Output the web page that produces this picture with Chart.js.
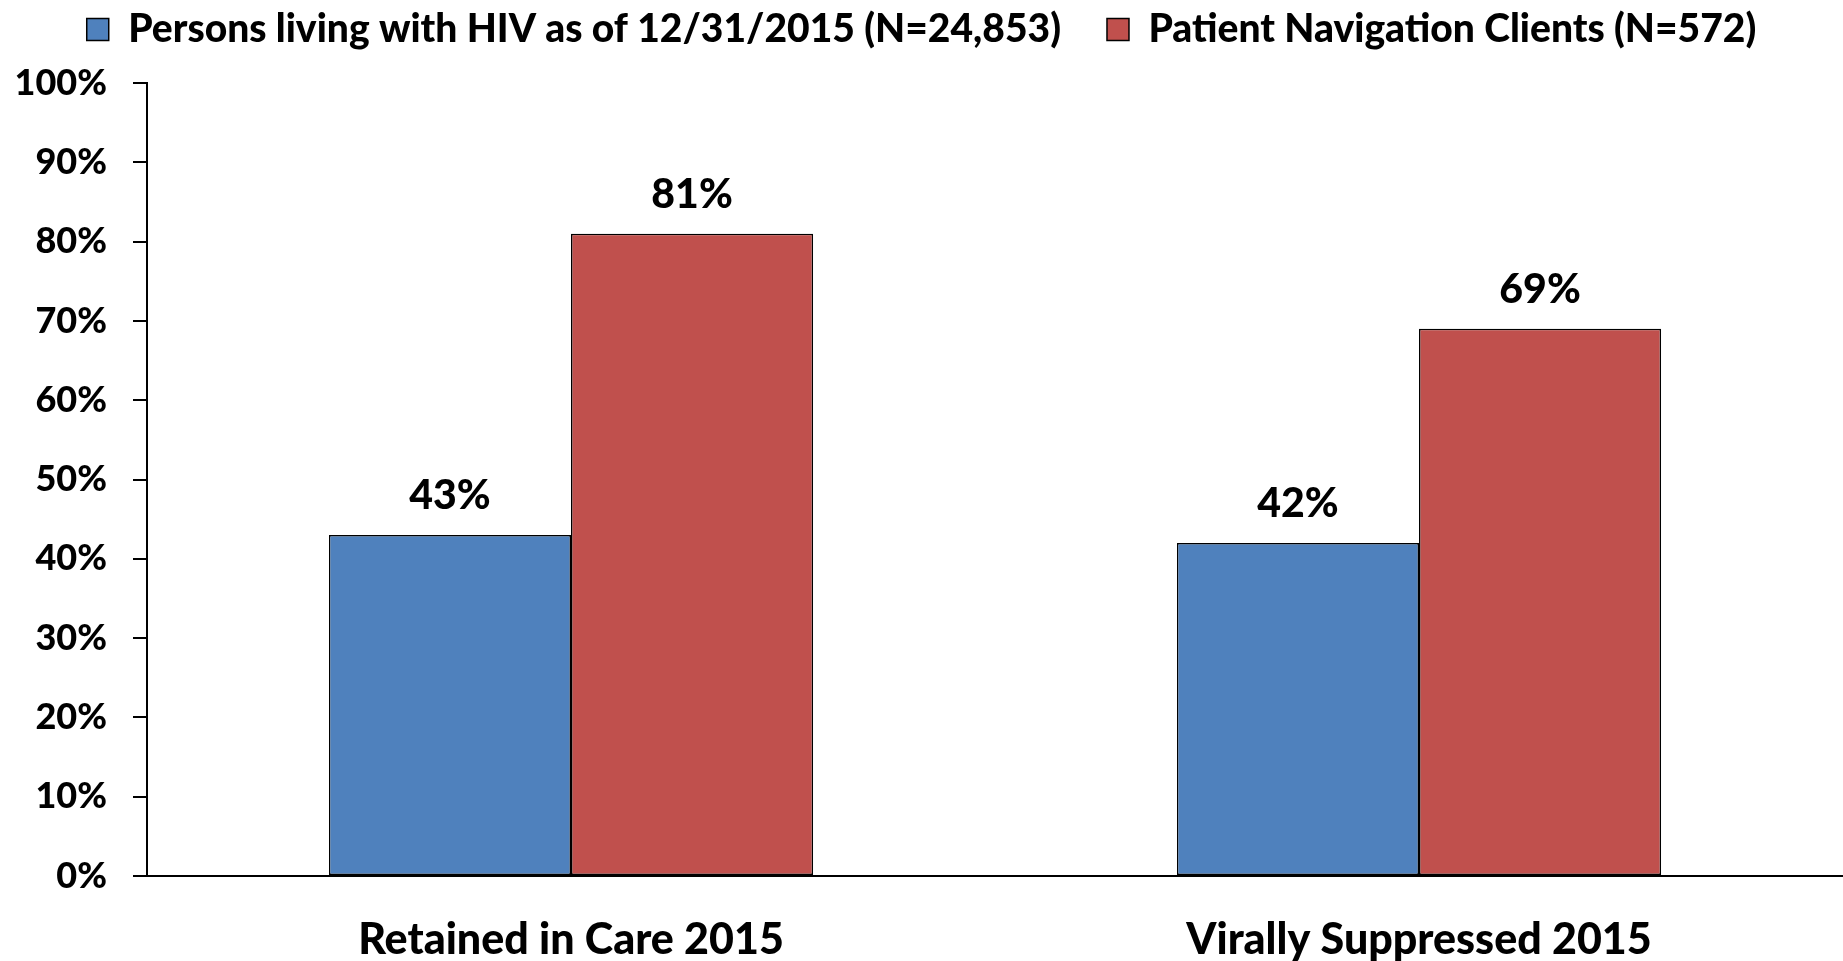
<!DOCTYPE html>
<html>
<head>
<meta charset="utf-8">
<script src="https://cdn.jsdelivr.net/npm/chart.js@4"></script>
<style>
  html, body { margin: 0; padding: 0; background: #fff; }
  #wrap { width: 1843px; height: 961px; }
</style>
</head>
<body>
<div id="wrap"><canvas id="hiv-chart"></canvas></div>
<script>
// data
const categories = ['Retained in Care 2015', 'Virally Suppressed 2015']
const seriesNames = ['Persons living with HIV as of 12/31/2015 (N=24,853)', 'Patient Navigation Clients (N=572)']
const allPlwh = [43, 42]
const navClients = [81, 69]
const yTicks = [0, 10, 20, 30, 40, 50, 60, 70, 80, 90, 100]

const fontFamily = 'Lato, "Open Sans", sans-serif'
const fontWeight = 900

/*
 * value labels above each bar
 */
const barLabels = {
  id: 'barLabels',
  afterDatasetsDraw(chart) {
    const ctx = chart.ctx
    ctx.save()
    ctx.font = fontWeight + ' 41px ' + fontFamily
    ctx.fillStyle = '#000'
    ctx.textAlign = 'center'
    ctx.textBaseline = 'middle'
    chart.data.datasets.forEach((ds, i) => {
      chart.getDatasetMeta(i).data.forEach((bar, j) => {
        ctx.fillText(ds.data[j] + '%', bar.x, bar.y - 39)
      })
    })
    ctx.restore()
  }
}

// legend padding is used both between items and above them,
// so pull the whole layout up and give the legend a fixed band
const legendBand = {
  id: 'legendBand',
  beforeInit(chart) {
    const fit = chart.legend.fit
    chart.legend.fit = function () {
      fit.call(this)
      this.height = 83 + 36
    }
  }
}

const ctx = document.getElementById('hiv-chart').getContext('2d')

const chart = new Chart(ctx, {
  type: 'bar',
  data: {
    labels: categories,
    datasets: [{
      label: seriesNames[0],
      data: allPlwh,
      backgroundColor: '#4F81BD',
      borderColor: '#000',
      borderWidth: 1.5,
      borderSkipped: false
    }, {
      label: seriesNames[1],
      data: navClients,
      backgroundColor: '#C0504D',
      borderColor: '#000',
      borderWidth: 1.5,
      borderSkipped: false
    }]
  },
  options: {
    responsive: true,
    maintainAspectRatio: false,
    animation: false,
    layout: { padding: { left: 0, right: 0, top: -36, bottom: 0 } },
    datasets: {
      bar: { barPercentage: 1, categoryPercentage: 0.571 }
    },
    plugins: {
      tooltip: { enabled: false },
      legend: {
        position: 'top',
        align: 'center',
        labels: {
          color: '#000',
          font: { family: fontFamily, size: 39, weight: fontWeight },
          boxWidth: 22,
          boxHeight: 22,
          padding: 46
        }
      }
    },
    scales: {
      x: {
        grid: { display: false },
        border: { display: true, color: '#000', width: 2 },
        ticks: {
          color: '#000',
          font: { family: fontFamily, size: 43, weight: fontWeight },
          padding: 30
        },
        afterFit(scale) { scale.height = 85 }
      },
      y: {
        min: 0,
        max: 100,
        afterBuildTicks(scale) { scale.ticks = yTicks.map(v => ({ value: v })) },
        grid: {
          drawOnChartArea: false,
          drawTicks: true,
          tickLength: 14,
          color: '#000',
          lineWidth: 2
        },
        border: { display: true, color: '#000', width: 2 },
        ticks: {
          color: '#000',
          font: { family: fontFamily, size: 36, weight: fontWeight },
          padding: 26,
          callback: v => v + '%'
        },
        afterFit(scale) { scale.width = 147 }
      }
    }
  },
  plugins: [barLabels, legendBand]
})
</script>
</body>
</html>
